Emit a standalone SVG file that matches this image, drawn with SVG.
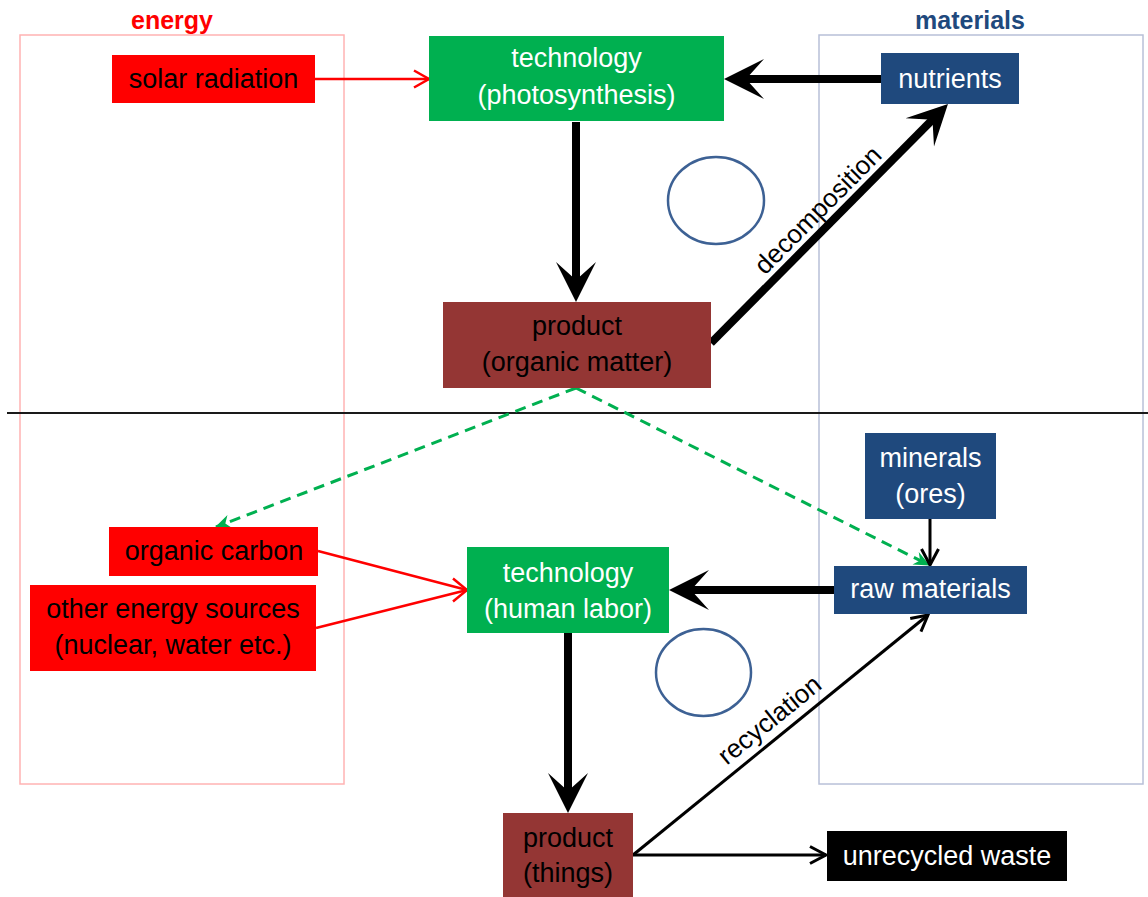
<svg xmlns="http://www.w3.org/2000/svg" width="1148" height="897" viewBox="0 0 1148 897">
<style>
text{font-family:"Liberation Sans",Arial,sans-serif;font-size:27px;text-anchor:middle}
.dark{fill:#000}
.light{fill:#fff}
.lbl{font-size:26px;fill:#000}
.hdr{font-weight:bold;font-size:25px}
.red{fill:#ff0000}
.grn{fill:#00b050}
.brn{fill:#943634}
.blu{fill:#1f497d}
.blk{fill:#000}
.thick{stroke:#000;stroke-width:8;fill:none}
.thin{stroke:#000;stroke-width:3;fill:none}
.rline{stroke:#ff0000;stroke-width:2.5;fill:none}
.dash{stroke:#00b050;stroke-width:3;fill:none;stroke-dasharray:11 7}
.cyc{fill:none;stroke:#3d6194;stroke-width:2.5}
</style>
<defs>
<marker id="mThick" markerUnits="userSpaceOnUse" markerWidth="50" markerHeight="50" viewBox="-30 -25 50 50" refX="0" refY="0" orient="auto">
<path d="M16,0 L-24,-20 L-6,0 L-24,20 Z" fill="#000"/>
</marker>
<marker id="mThin" markerUnits="userSpaceOnUse" markerWidth="30" markerHeight="30" viewBox="-20 -15 30 30" refX="0" refY="0" orient="auto">
<path d="M-16,-8.5 L0,0 L-16,8.5" fill="none" stroke="#000" stroke-width="3"/>
</marker>
<marker id="mRed" markerUnits="userSpaceOnUse" markerWidth="30" markerHeight="30" viewBox="-20 -15 30 30" refX="0" refY="0" orient="auto">
<path d="M-15,-8.5 L0,0 L-15,8.5" fill="none" stroke="#ff0000" stroke-width="2.5"/>
</marker>
<marker id="mRedH" markerUnits="userSpaceOnUse" markerWidth="30" markerHeight="30" viewBox="-20 -15 30 30" refX="0" refY="0" orient="0">
<path d="M-14,-11.5 L0,0 L-14,11.5" fill="none" stroke="#ff0000" stroke-width="2.5"/>
</marker>
<marker id="mGreen" markerUnits="userSpaceOnUse" markerWidth="30" markerHeight="30" viewBox="-20 -15 30 30" refX="0" refY="0" orient="auto">
<path d="M1,0 L-15,-7 L-10,0 L-15,7 Z" fill="#00b050"/>
</marker>
</defs>
<rect width="1148" height="897" fill="#fff"/>
<g id="containers">
<rect x="20" y="35" width="324" height="749" fill="none" stroke="#ffb3b3" stroke-width="1.5"/>
<text x="172" y="29" class="hdr" fill="#ff0000">energy</text>
<rect x="819" y="35" width="324" height="749" fill="none" stroke="#b8c0d8" stroke-width="1.5"/>
<text x="970" y="29" class="hdr" fill="#1f497d">materials</text>
<line x1="7" y1="413" x2="1148" y2="413" stroke="#1a1a1a" stroke-width="2"/>
</g>
<g id="cycles">
<ellipse cx="716" cy="200.5" rx="48" ry="43.5" class="cyc"/>
<ellipse cx="703.5" cy="672.5" rx="47.5" ry="43.5" class="cyc"/>
</g>
<g id="connectors">
<line x1="315" y1="79" x2="429" y2="79" class="rline" marker-end="url(#mRed)"/>
<line x1="881" y1="79" x2="740" y2="79" class="thick" marker-end="url(#mThick)"/>
<line x1="576" y1="122" x2="576" y2="286" class="thick" marker-end="url(#mThick)"/>
<line x1="711" y1="343" x2="936.7" y2="115.4" class="thick" marker-end="url(#mThick)"/>
<text class="lbl" transform="translate(830.5,222.5) rotate(-45.2)" x="0" y="-9">decomposition</text>
<line x1="576" y1="388" x2="216" y2="527" class="dash" marker-end="url(#mGreen)"/>
<line x1="576" y1="388" x2="929" y2="565" class="dash" marker-end="url(#mGreen)"/>
<line x1="318" y1="551" x2="467" y2="590" class="rline"/>
<line x1="316" y1="628" x2="467" y2="590" class="rline" marker-end="url(#mRedH)"/>
<line x1="834" y1="590" x2="685" y2="590" class="thick" marker-end="url(#mThick)"/>
<line x1="568" y1="633" x2="568" y2="797" class="thick" marker-end="url(#mThick)"/>
<line x1="930" y1="519" x2="930" y2="565" class="thin" stroke-width="2.5" marker-end="url(#mThin)"/>
<line x1="633" y1="855" x2="928" y2="615" class="thin" marker-end="url(#mThin)"/>
<text class="lbl" transform="translate(781.4,734.4) rotate(-39.1)" x="0" y="-10">recyclation</text>
<line x1="633" y1="855" x2="826" y2="855" class="thin" marker-end="url(#mThin)"/>
</g>
<g id="solar-radiation">
<rect x="112" y="55" width="203" height="48" class="red"/>
<text x="213.5" y="88" class="dark">solar radiation</text>
</g>
<g id="technology-photosynthesis">
<rect x="429" y="36" width="295" height="85" class="grn"/>
<text x="576.5" y="67" class="light">technology</text>
<text x="576.5" y="104" class="light">(photosynthesis)</text>
</g>
<g id="nutrients">
<rect x="881" y="53" width="138" height="51" class="blu"/>
<text x="950" y="88" class="light">nutrients</text>
</g>
<g id="product-organic">
<rect x="443" y="302" width="268" height="86" class="brn"/>
<text x="577" y="335" class="dark">product</text>
<text x="577" y="371" class="dark">(organic matter)</text>
</g>
<g id="organic-carbon">
<rect x="109" y="527" width="209" height="49" class="red"/>
<text x="214" y="560" class="dark">organic carbon</text>
</g>
<g id="other-energy">
<rect x="30" y="585" width="286" height="86" class="red"/>
<text x="173" y="618" class="dark">other energy sources</text>
<text x="173" y="654" class="dark">(nuclear, water etc.)</text>
</g>
<g id="technology-labor">
<rect x="467" y="547" width="202" height="86" class="grn"/>
<text x="568" y="582" class="light">technology</text>
<text x="568" y="618" class="light">(human labor)</text>
</g>
<g id="product-things">
<rect x="503" y="813" width="130" height="84" class="brn"/>
<text x="568" y="847" class="dark">product</text>
<text x="568" y="882" class="dark">(things)</text>
</g>
<g id="minerals">
<rect x="865" y="433" width="131" height="86" class="blu"/>
<text x="930.5" y="467" class="light">minerals</text>
<text x="930.5" y="503" class="light">(ores)</text>
</g>
<g id="raw-materials">
<rect x="834" y="566" width="193" height="48" class="blu"/>
<text x="930.5" y="598" class="light">raw materials</text>
</g>
<g id="unrecycled-waste">
<rect x="827" y="831" width="240" height="50" class="blk"/>
<text x="947" y="865" class="light">unrecycled waste</text>
</g>
</svg>
